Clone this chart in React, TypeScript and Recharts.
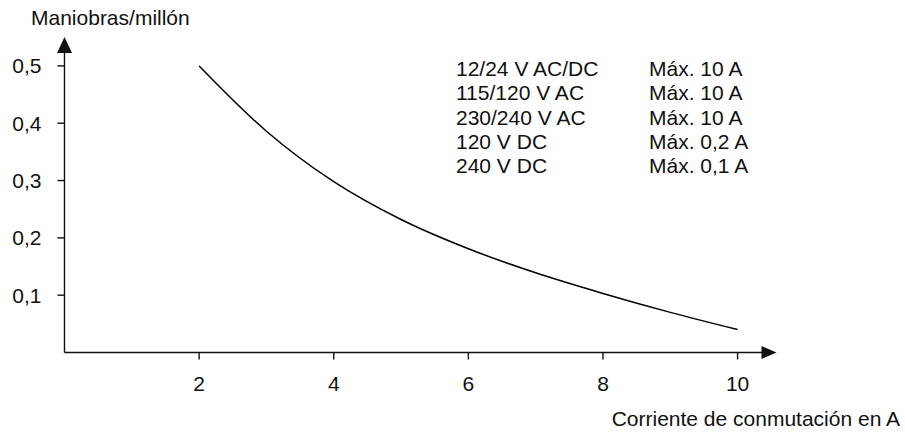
import { LineChart, Line, XAxis, YAxis, ReferenceDot } from 'recharts';

const current = [2, 3, 4, 5, 6, 7, 8, 9, 10];
const operations = [0.5, 0.386, 0.298, 0.232, 0.181, 0.139, 0.103, 0.07, 0.04];
const xTicks = [2, 4, 6, 8, 10];
const yTicks = [0.1, 0.2, 0.3, 0.4, 0.5];
const voltages = ['12/24 V AC/DC', '115/120 V AC', '230/240 V AC', '120 V DC', '240 V DC'];
const maxCurrents = ['Máx. 10 A', 'Máx. 10 A', 'Máx. 10 A', 'Máx. 0,2 A', 'Máx. 0,1 A'];

const X_MAX = 10.37;
const Y_MAX = 0.5242;
const FONT = '"Liberation Sans", Arial, sans-serif';
const INK = '#111';
const FS = 21;

const chartData = current.map((c, i) => ({ current: c, ops: operations[i] }));

const ArrowRight = (props: any) => {
  const { cx, cy } = props;
  return <polygon points={`${cx - 1},${cy - 6.5} ${cx + 14},${cy} ${cx - 1},${cy + 6.5}`} fill={INK} />;
};

const ArrowUp = (props: any) => {
  const { cx, cy } = props;
  return <polygon points={`${cx - 7.5},${cy + 1} ${cx},${cy - 15} ${cx + 7.5},${cy + 1}`} fill={INK} />;
};

export default function App() {
  return (
    <div style={{ position: 'absolute', left: 0, top: 0, width: 905, height: 432, background: '#fff', fontFamily: FONT }}>
      <LineChart width={905} height={432} data={chartData} margin={{ top: 52, right: 142.5, bottom: 49.5, left: 4.5 }}>
        <XAxis
          dataKey="current"
          type="number"
          domain={[0, X_MAX]}
          ticks={xTicks}
          allowDataOverflow
          height={30}
          tickSize={7}
          tickMargin={17}
          stroke={INK}
          strokeWidth={1.4}
          tick={{ fill: INK, fontSize: FS, fontFamily: FONT }}
          label={{
            content: () => (
              <text x={900} y={426} textAnchor="end" fill={INK} fontSize={FS} fontFamily={FONT}>
                Corriente de conmutación en A
              </text>
            ),
          }}
        />
        <YAxis
          type="number"
          domain={[0, Y_MAX]}
          ticks={yTicks}
          allowDataOverflow
          width={60}
          tickSize={7}
          tickMargin={16}
          stroke={INK}
          strokeWidth={1.4}
          tickFormatter={(v: number) => v.toFixed(1).replace('.', ',')}
          tick={{ fill: INK, fontSize: FS, fontFamily: FONT }}
          label={{
            content: () => (
              <text x={31} y={25} fill={INK} fontSize={FS} fontFamily={FONT}>
                Maniobras/millón
              </text>
            ),
          }}
        />
        <ReferenceDot x={X_MAX} y={0} ifOverflow="visible" shape={ArrowRight} />
        <ReferenceDot x={0} y={Y_MAX} ifOverflow="visible" shape={ArrowUp} />
        <Line
          type="monotone"
          dataKey="ops"
          stroke="#000"
          strokeWidth={1.5}
          dot={false}
          isAnimationActive={false}
        />
      </LineChart>
      <div style={{ position: 'absolute', left: 456, top: 57, fontSize: FS, lineHeight: '24.3px', color: INK }}>
        {voltages.map((v, i) => (
          <div key={v + i} style={{ display: 'flex', whiteSpace: 'nowrap' }}>
            <span style={{ width: 193 }}>{v}</span>
            <span>{maxCurrents[i]}</span>
          </div>
        ))}
      </div>
    </div>
  );
}
